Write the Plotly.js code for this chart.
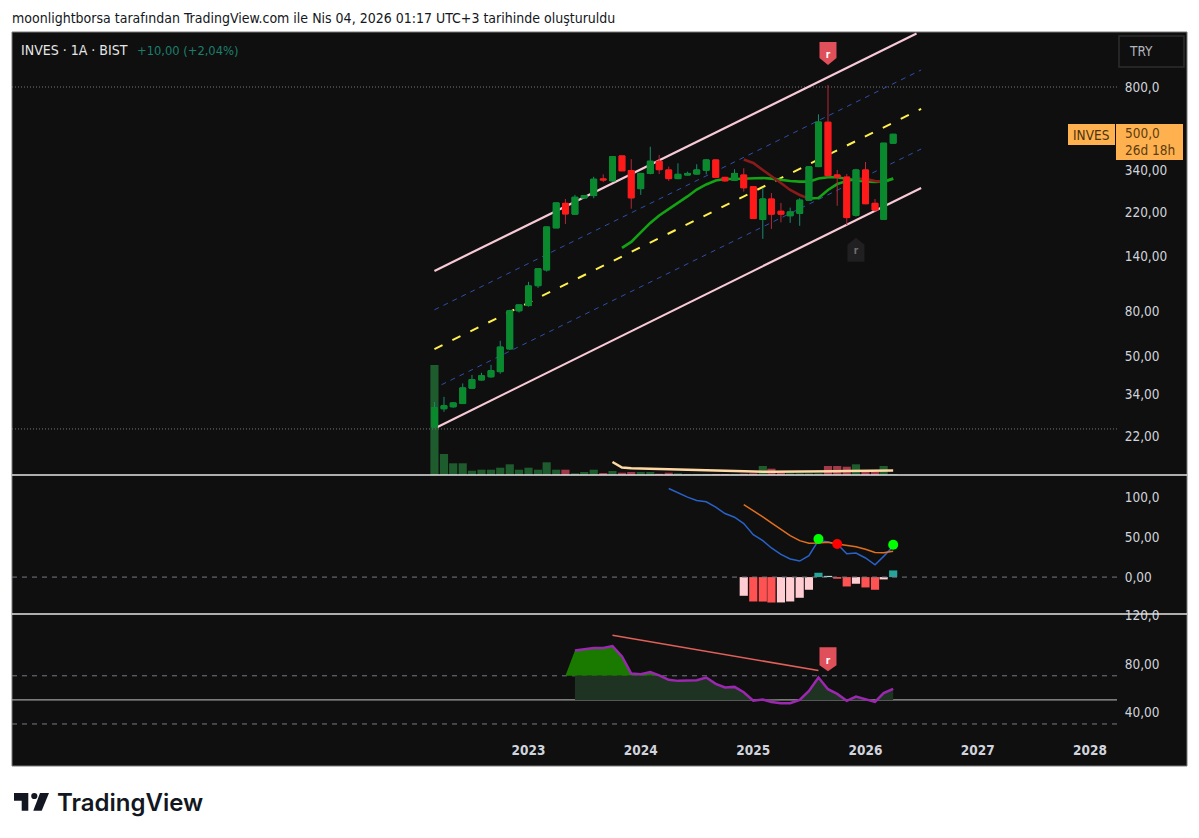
<!DOCTYPE html>
<html>
<head>
<meta charset="utf-8">
<script src="https://cdn.plot.ly/plotly-3.0.1.min.js"></script>
<style>
  html, body { margin: 0; padding: 0; background: #fff; }
</style>
</head>
<body>
<div id="chart" style="width:1199px;height:838px;"></div>
<script>
// monthly bars, INVES / BIST
var months = ["2022-03","2022-04","2022-05","2022-06","2022-07","2022-08","2022-09","2022-10","2022-11","2022-12",
  "2023-01","2023-02","2023-03","2023-04","2023-05","2023-06","2023-07","2023-08","2023-09","2023-10",
  "2023-11","2023-12","2024-01","2024-02","2024-03","2024-04","2024-05","2024-06","2024-07","2024-08",
  "2024-09","2024-10","2024-11","2024-12","2025-01","2025-02","2025-03","2025-04","2025-05","2025-06",
  "2025-07","2025-08","2025-09","2025-10","2025-11","2025-12","2026-01","2026-02","2026-03","2026-04"];

var opens = [24.3,29.3,29.9,30.9,36.2,39.4,40.7,42.9,54.2,80.2,84.6,103.8,122,188,242,216.5,255.7,262,311,305,
  394,339,281.5,329,373,341,312,323.7,327,340,378,316,307,323.7,287,205,253,223,213,218.5,250,353,557,324,317,214,341,242,205.5,449];
var highs = [31.4,33.1,31.3,38,41.5,42.4,46,58.9,81,85.5,108,123.5,190.4,243.5,253,264,263,318,326,393.7,
  394,381,331,433,398,353,365,335,361.5,381,380,318,343.5,347,288,284,269,243,231.5,255,353,604,817,341,327,345,370,253,450,494];
var lows = [24.05,28.4,29.6,30.8,36,39.1,40.3,42,53.6,78.8,83.7,101.5,120,187.8,195.8,215,255,255,301,303,
  338,229,264,326,327,305,310,323,326,326,315,302,305.5,273,206.5,168,186,199,198,192,249,351,318,236,193.5,211,240,222,205,448];
var closes = [29.6,30.2,31.1,36.3,39.5,41.1,43.3,55.2,80.2,85.2,103.5,123.4,189.8,243,217,257.5,262,310,308,391,
  338,256,329,373,342,312,326,329,341,378,316,305,329,284,207,253,216.5,216.5,221.5,250,352,558,321.5,317,209,341,241,226,449,492];
var volumes = [110,21,11.7,11.7,4.3,5.3,5.3,7.3,10.7,5.3,7.3,5.3,12.7,5.3,5.3,1.7,3,5.3,2,4,
  2.3,3,3,3,1.3,2.3,1.7,1,1,1,1,1,1,1.3,1.7,9,6.3,2,1.7,1.7,1.7,1.7,9,9,8.3,10.7,4.3,3,9,1];
var volumeMa = [13,7.5,6.8,6.5,6.3,6,5.8,5.5,5.2,5,4.7,4.5,4.2,3.8,3.5,3.3,3.2,3.2,3.2,3.2,3.2,3.3,3.5,3.7,3.8,4,4,4.2,4.3,4.5,4.5];

// moving averages on price, starting Nov 2023 and Dec 2024
var maSlow = [153,162.7,179.4,197.8,213.7,228.5,241.7,259.7,279,293.8,306,310.9,310.9,312.4,314,314,311.8,307.8,304.6,302.4,302.4,
  312.4,316.3,316.3,310.9,306,303,301.4,303,311.8];
var maFast = [379.8,366.4,341,320.6,298,277.5,263.7,254.5,255.7,277.5,295,304.6,311,311,304.6,301.4,312.4];

// channel end values
var channelDates = ["2022-03-01","2026-06-16"];
var channelTop = [120.8,1385];
var channelBottomDates = ["2022-03-11","2026-07-01"];
var channelBottom = [24.3,283.4];
var channelMidDates = ["2022-03-01","2026-07-01"];
var channelMid = [54.1,639];
var channelUpperInner = [81,953];
var channelLowerInnerDates = ["2022-03-24","2026-07-01"];
var channelLowerInner = [37.5,423];
var priceLevels = [800,23.8];

// MACD pane
var macd = [110.4,105,99.6,95.4,93.8,87.1,79.2,74.6,66.7,52.9,45.4,36.3,28.3,22.5,20,26.7,45.8,43.8,41.3,29.2,30,23.8,15.4,25.8,38.3];
var signal = [90.4,82.9,75,67.5,59.6,51.7,45.4,42.1,42.5,43.3,41.3,39.6,37.9,34.6,30.8,30.4,32.1];
var histogram = [-23.3,-30.4,-30.5,-31.7,-31.6,-30.4,-25.8,-15.8,5.4,1.5,-2,-11.7,-8.3,-12.9,-15.8,-2.9,8.3];
var crossMonths = ["2025-08","2025-10","2026-04"];
var crossValues = [47.5,41.3,40.4];

// RSI pane, starting Jun 2023
var rsi = [91.1,91.9,93.1,93.1,94.7,86.1,71.9,71.4,73.1,70.3,66.7,65.8,65.8,66.4,68.6,63.3,60.3,60.8,56.4,49.4,50.3,48.3,47.2,47.2,50,
  57.5,68.6,58.9,55,49.2,52.8,50.6,48.3,55.6,59.2];
var rsiDivergenceMonths = ["2023-10","2025-08"];
var rsiDivergence = [103.6,74.4];

var priceTicks = [800,340,220,140,80,50,34,22];
var priceTickText = ["800,0","340,00","220,00","140,00","80,00","50,00","34,00","22,00"];
var macdTicks = [100,50,0];
var macdTickText = ["100,0","50,00","0,00"];
var rsiTicks = [120,80,40];
var rsiTickText = ["120,0","80,00","40,00"];
var yearTicks = ["2023-01-01","2024-01-01","2025-01-01","2026-01-01","2027-01-01","2028-01-01"];
var yearText = ["2023","2024","2025","2026","2027","2028"];

var xRange = ["2018-05-27","2028-03-29"];
var priceRange = [1.171,3.1486];

var UP = "#0a8a2c", DOWN = "#ff1a1a", UPWICK = "#1a8a6e", DOWNWICK = "#b32a3c";
var UIFONT = "'DejaVu Sans Condensed','DejaVu Sans',sans-serif";
var TICKCOL = "#d1d4dc";

// chart frame is fixed, so page pixels map straight to paper coordinates
function px(x) { return (x - 12) / 1105; }
function py(y) { return (766 - y) / 734; }

var upDown = closes.map(function (c, i) { return c >= opens[i]; });
var bodyHigh = closes.map(function (c, i) { return Math.max(c, opens[i]); });
var bodyLow = closes.map(function (c, i) { return Math.min(c, opens[i]); });

// fast MA is split into its falling and rising stretches
var fastMonths = months.slice(33);
var fastDown = maFast.map(function (v, i) { return (i <= 7 || (i >= 12 && i <= 15)) ? v : null; });
var fastUp = maFast.map(function (v, i) { return ((i >= 7 && i <= 12) || i >= 15) ? v : null; });

var histColors = histogram.map(function (v, i) {
  var prev = i > 0 ? histogram[i - 1] : v - 1;
  if (v >= 0) return v >= prev ? "#26a69a" : "#b2dfdb";
  return v < prev ? "#ff5252" : "#ffcdd2";
});

var rsiMonths = months.slice(15);
var rsiFillMonths = months.slice(14);
var rsiOver = [70].concat(rsi.map(function (v) { return Math.max(v, 70); }));
var rsiUnder = rsi.map(function (v) { return Math.min(Math.max(v, 50), 70); });

function line(x, y, yaxis, color, width, dash) {
  return { x: x, y: y, yaxis: yaxis, type: "scatter", mode: "lines", hoverinfo: "skip",
    line: { color: color, width: width, dash: dash || "solid" } };
}
function flat(x, v) { return x.map(function () { return v; }); }

var data = [
  { x: months, y: volumes, yaxis: "y", type: "bar", hoverinfo: "skip",
    marker: { color: upDown.map(function (u) { return u ? "#1e5c2e" : "#a33a4c"; }) } },
  line(months.slice(19), volumeMa, "y", "#ffd9a3", 2.5),

  line(xRange, flat(xRange, priceLevels[0]), "y2", "#777777", 1, "1px,2px"),
  line(xRange, flat(xRange, priceLevels[1]), "y2", "#777777", 1, "1px,2px"),
  line(channelDates, channelTop, "y2", "#f8c9d6", 2.2),
  line(channelBottomDates, channelBottom, "y2", "#f8c9d6", 2.2),
  line(channelMidDates, channelMid, "y2", "#fff04d", 2, "9px,11px"),
  line(channelMidDates, channelUpperInner, "y2", "#2f4fa8", 1, "5px,5px"),
  line(channelLowerInnerDates, channelLowerInner, "y2", "#2f4fa8", 1, "5px,5px"),
  line(months.slice(20), maSlow, "y2", "#14a314", 2.6),
  line(fastMonths, fastDown, "y2", "#8b1a1a", 2.6),
  line(fastMonths, fastUp, "y2", "#14a314", 2.6),

  { x: months, open: opens, high: highs, low: lows, close: closes, yaxis: "y3", type: "candlestick",
    hoverinfo: "skip", whiskerwidth: 0,
    increasing: { line: { color: UPWICK, width: 1 }, fillcolor: UP },
    decreasing: { line: { color: DOWNWICK, width: 1 }, fillcolor: DOWN } },
  { x: months, open: opens, high: bodyHigh, low: bodyLow, close: closes, yaxis: "y3", type: "candlestick",
    hoverinfo: "skip", whiskerwidth: 0,
    increasing: { line: { color: UP, width: 1 }, fillcolor: UP },
    decreasing: { line: { color: DOWN, width: 1 }, fillcolor: DOWN } },

  line(xRange, flat(xRange, 0), "y4", "#787b86", 1, "5px,5px"),
  { x: months.slice(33), y: histogram, yaxis: "y4", type: "bar", hoverinfo: "skip", marker: { color: histColors } },
  line(months.slice(25), macd, "y4", "#2962c8", 1.5),
  line(months.slice(33), signal, "y4", "#e0701e", 1.5),
  { x: crossMonths, y: crossValues, yaxis: "y4", type: "scatter", mode: "markers", hoverinfo: "skip",
    marker: { size: 10, color: ["#00ff00", "#ff0000", "#00ff00"] } },

  line(xRange, flat(xRange, 70), "y5", "#787b86", 1, "5px,5px"),
  line(xRange, flat(xRange, 50), "y5", "#a0a0a0", 1.2),
  line(xRange, flat(xRange, 30), "y5", "#787b86", 1, "5px,5px"),
  line(rsiFillMonths, flat(rsiFillMonths, 70), "y5", "rgba(0,0,0,0)", 0),
  Object.assign(line(rsiFillMonths, rsiOver, "y5", "rgba(0,0,0,0)", 0), { fill: "tonexty", fillcolor: "#1a7a00" }),
  line(rsiMonths, flat(rsiMonths, 50), "y5", "rgba(0,0,0,0)", 0),
  Object.assign(line(rsiMonths, rsiUnder, "y5", "rgba(0,0,0,0)", 0), { fill: "tonexty", fillcolor: "#1f3322" }),
  line(rsiDivergenceMonths, rsiDivergence, "y5", "#e0605a", 1.5),
  line(rsiMonths, rsi, "y5", "#9c27b0", 2.5)
];

function valueAxis(domain, range, ticks, text) {
  return { domain: domain, range: range, side: "right", anchor: "x", showgrid: false, zeroline: false, showline: false,
    tickmode: "array", tickvals: ticks, ticktext: text, ticks: "outside", ticklen: 4, tickcolor: "rgba(0,0,0,0)",
    tickfont: { family: UIFONT, size: 13.5, color: TICKCOL } };
}
var priceDomain = [py(475), 1];

var priceAxis = valueAxis(priceDomain, priceRange, priceTicks, priceTickText);
priceAxis.type = "log";
priceAxis.overlaying = "y";

function tag(anchorMonth, anchorValue, yref, fill, textColor, path) {
  return { type: "path", xref: "x", yref: yref, xsizemode: "pixel", ysizemode: "pixel",
    xanchor: anchorMonth, yanchor: anchorValue, path: path, fillcolor: fill, line: { width: 0 }, layer: "above",
    label: { text: "r", font: { family: UIFONT, size: 10, color: textColor, weight: 700 }, textposition: "middle center" } };
}

var shapes = [
  { type: "rect", xref: "paper", yref: "paper", x0: px(12), x1: px(1187), y0: py(766), y1: py(32),
    fillcolor: "#0f0f0f", line: { color: "#7a7a7a", width: 1 }, layer: "below" },
  { type: "line", xref: "paper", yref: "paper", x0: px(12), x1: px(1187), y0: py(475), y1: py(475), line: { color: "#e4e4e4", width: 1.5 } },
  { type: "line", xref: "paper", yref: "paper", x0: px(12), x1: px(1187), y0: py(614), y1: py(614), line: { color: "#e4e4e4", width: 1.5 } },
  tag(months[42], highs[42], "y2", "#e0505a", "#ffffff", "M 0 20 L -8.5 27 L -8.5 43 L 8.5 43 L 8.5 27 Z"),
  tag(months[45], lows[45], "y2", "#202022", "#6f6f6f", "M 0 -21 L -8.5 -28 L -8.5 -45 L 8.5 -45 L 8.5 -28 Z"),
  tag(months[42], rsi[27], "y5", "#e0505a", "#ffffff", "M 0 18 L -8.5 24 L -8.5 42 L 8.5 42 L 8.5 24 Z"),
  { type: "rect", xref: "paper", yref: "paper", x0: px(1119), x1: px(1184), y0: py(67), y1: py(36),
    fillcolor: "#0f0f0f", line: { color: "#2e2e2e", width: 1.5 } },
  { type: "rect", xref: "paper", yref: "paper", x0: px(1068), x1: px(1115), y0: py(145), y1: py(124),
    fillcolor: "#ffb14f", line: { width: 0 } },
  { type: "rect", xref: "paper", yref: "paper", x0: px(1116), x1: px(1183), y0: py(160), y1: py(124),
    fillcolor: "#ffb14f", line: { width: 0 } },
  // logo mark
  { type: "path", xref: "paper", yref: "paper", fillcolor: "#131722", line: { width: 0 },
    path: "M " + px(14) + " " + py(793) + " L " + px(28.3) + " " + py(793) + " L " + px(28.3) + " " + py(810.7) +
      " L " + px(21.7) + " " + py(810.7) + " L " + px(21.7) + " " + py(800.7) + " L " + px(14) + " " + py(800.7) + " Z" },
  { type: "circle", xref: "paper", yref: "paper", fillcolor: "#131722", line: { width: 0 },
    x0: px(31.2), x1: px(37.4), y0: py(799.1), y1: py(792.9) },
  { type: "path", xref: "paper", yref: "paper", fillcolor: "#131722", line: { width: 0 },
    path: "M " + px(40) + " " + py(793) + " L " + px(49) + " " + py(793) + " L " + px(41.7) + " " + py(810.7) +
      " L " + px(33.3) + " " + py(810.7) + " Z" }
];

function note(x, y, text, size, color, anchor, family, weight) {
  return { xref: "paper", yref: "paper", x: px(x), y: py(y), text: text, showarrow: false,
    xanchor: anchor || "left", yanchor: "middle",
    font: { family: family || UIFONT, size: size, color: color, weight: weight || 400 } };
}

var annotations = [
  note(19, 50, "INVES · 1A · BIST", 14, "#e6e6e6"),
  note(135, 50, "+10,00 (+2,04%)", 12.8, "#1b7f6b"),
  note(1127, 51, "TRY", 13.5, "#b2b5be"),
  note(1071, 135, "INVES", 13.5, "#4a3210"),
  note(1123, 133, "500,0", 13.5, "#5c3c10"),
  note(1123, 150, "26d 18h", 13.5, "#5c3c10"),
  note(55, 803, "TradingView", 24, "#131722", "left", "Inter", 600)
];

var layout = {
  width: 1199, height: 838,
  margin: { l: 12, r: 82, t: 32, b: 72, pad: 0 },
  paper_bgcolor: "#ffffff", plot_bgcolor: "rgba(0,0,0,0)",
  showlegend: false, bargap: 0.05, boxmode: "overlay", boxgap: 0.32, boxgroupgap: 0,
  title: { text: "moonlightborsa tarafından TradingView.com ile Nis 04, 2026 01:17 UTC+3 tarihinde oluşturuldu",
    x: 12 / 1199, xanchor: "left", y: 1 - 18 / 838, yanchor: "middle",
    font: { family: UIFONT, size: 14, color: "#131722" } },
  xaxis: { type: "date", range: xRange, anchor: "y5", showgrid: false, zeroline: false, showline: false,
    rangeslider: { visible: false }, tickmode: "array", tickvals: yearTicks, ticktext: yearText, ticks: "",
    tickfont: { family: UIFONT, size: 13.5, color: TICKCOL, weight: 700 } },
  yaxis: { domain: priceDomain, range: [0, 443], visible: false, fixedrange: true },
  yaxis2: priceAxis,
  yaxis3: { domain: priceDomain, range: priceRange, type: "log", overlaying: "y", visible: false, side: "right" },
  yaxis4: valueAxis([py(614), py(476)], [-46, 126], macdTicks, macdTickText),
  yaxis5: valueAxis([py(740), py(615)], [16.7, 120.5], rsiTicks, rsiTickText),
  shapes: shapes,
  annotations: annotations
};

Plotly.newPlot("chart", data, layout, { displayModeBar: false, staticPlot: true });
</script>
</body>
</html>
